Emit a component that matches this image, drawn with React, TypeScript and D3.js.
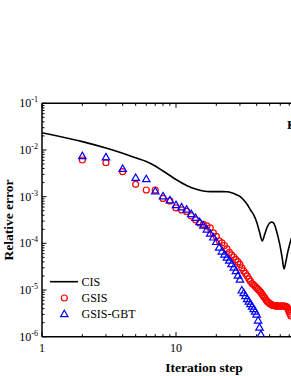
import React from "react"
import * as d3 from "d3"

// iteration step vs relative error
const cisIter = [1, 2, 3, 4, 5, 6, 7, 8, 9, 10, 12, 14, 16, 18, 20, 22, 24, 26, 28, 30, 32, 34, 36, 38, 40, 42, 44, 46, 48, 50, 52, 54, 56, 58, 60, 62, 64, 66, 68, 70, 72, 76]
const cisErr = [2.35e-2, 1.51e-2, 1.1e-2, 8.5e-3, 6.8e-3, 5.67e-3, 4.54e-3, 3.55e-3, 2.84e-3, 2.33e-3, 1.74e-3, 1.46e-3, 1.32e-3, 1.28e-3, 1.28e-3, 1.28e-3, 1.27e-3, 1.21e-3, 1.11e-3, 1.01e-3, 8.5e-4, 6.8e-4, 5.19e-4, 4.06e-4, 2.87e-4, 1.75e-4, 1.13e-4, 1.59e-4, 2.25e-4, 2.73e-4, 2.87e-4, 2.6e-4, 1.94e-4, 1.31e-4, 8.4e-5, 4.87e-5, 2.83e-5, 4.0e-5, 6.2e-5, 8.8e-5, 1.18e-4, 1.6e-4]

const gsisIter = [2, 3, 4, 5, 6, 7, 8, 9, 10, 11, 12, 13, 14, 15, 16, 17, 18, 19, 20, 21, 22, 23, 24, 25, 26, 27, 28, 29, 30, 31, 32, 33, 34, 35, 36, 37, 38, 39, 40, 41, 42, 43, 44, 45, 46, 47, 48, 49, 50, 51, 52, 53, 54, 55, 56, 57, 58, 59, 60, 61, 62, 63, 64, 65, 66, 67, 68, 69, 70, 71, 72]
const gsisErr = [6.1e-3, 5.35e-3, 3.43e-3, 1.84e-3, 1.39e-3, 1.39e-3, 9.15e-4, 8.1e-4, 5.73e-4, 5.19e-4, 4.82e-4, 3.86e-4, 3.17e-4, 2.73e-4, 2.54e-4, 2.36e-4, 2.14e-4, 1.67e-4, 1.41e-4, 1.13e-4, 1.02e-4, 9.0e-5, 7.6e-5, 6.4e-5, 5.65e-5, 5.1e-5, 4.5e-5, 4.0e-5, 3.53e-5, 2.97e-5, 2.56e-5, 2.27e-5, 2.0e-5, 1.73e-5, 1.53e-5, 1.38e-5, 1.29e-5, 1.19e-5, 1.11e-5, 1.03e-5, 9.6e-6, 8.9e-6, 8.05e-6, 7.3e-6, 6.8e-6, 6.1e-6, 5.7e-6, 5.4e-6, 5.16e-6, 4.9e-6, 4.8e-6, 4.68e-6, 4.6e-6, 4.58e-6, 4.56e-6, 4.56e-6, 4.55e-6, 4.55e-6, 4.54e-6, 4.54e-6, 4.53e-6, 4.52e-6, 4.5e-6, 4.48e-6, 4.45e-6, 4.35e-6, 4.14e-6, 3.75e-6, 3.4e-6, 3.08e-6, 2.79e-6]

const gbtIter = [2, 3, 4, 5, 6, 7, 8, 9, 10, 11, 12, 13, 14, 15, 16, 17, 18, 19, 20, 21, 22, 23, 24, 25, 26, 27, 28, 29, 30, 31, 32, 33, 34, 35, 36, 37, 38, 39, 40, 41, 42, 43]
const gbtErr = [7.26e-3, 6.84e-3, 3.86e-3, 2.48e-3, 2.33e-3, 1.28e-3, 1.0e-3, 8.2e-4, 6.48e-4, 5.81e-4, 5.19e-4, 4.16e-4, 3.45e-4, 2.8e-4, 2.36e-4, 1.94e-4, 1.59e-4, 1.31e-4, 1.05e-4, 7.96e-5, 6.55e-5, 5.65e-5, 4.87e-5, 4.2e-5, 3.53e-5, 2.97e-5, 2.5e-5, 2.0e-5, 1.64e-5, 9.6e-6, 8.45e-6, 7.3e-6, 6.3e-6, 5.56e-6, 4.92e-6, 4.35e-6, 3.84e-6, 3.4e-6, 2.93e-6, 2.18e-6, 1.54e-6, 1.09e-6]

const xMajor = [1, 10, 100]
const xLabels = [1, 10]
const yExp = [-1, -2, -3, -4, -5, -6]
const legendNames = ["CIS", "GSIS", "GSIS-GBT"]

const App = () => {
  const left = 42, right = 310, top = 103.3, bottom = 336.7
  const x = d3.scaleLog().domain([1, 100]).range([left, right])
  const y = d3.scaleLog().domain([1e-6, 1e-1]).range([bottom, top])

  const xMinor: number[] = []
  ;[1, 10].forEach(d => { for (let k = 2; k <= 9; k++) xMinor.push(d * k) })
  const yMinor: number[] = []
  ;[1e-6, 1e-5, 1e-4, 1e-3, 1e-2].forEach(d => { for (let k = 2; k <= 9; k++) yMinor.push(d * k) })

  const line = d3.line<number>()
    .x((d, i) => x(cisIter[i]))
    .y(d => y(d))
    .curve(d3.curveMonotoneX)

  const tri = d3.symbol().type(d3.symbolTriangle).size(24)()

  const serif = "Liberation Serif, Times New Roman, serif"

  return (
    <svg width={291} height={376} style={{ position: "absolute", left: 0, top: 0, fontFamily: serif }}>
      <defs>
        <clipPath id="plot">
          <rect x={left} y={top} width={right - left} height={bottom - top} />
        </clipPath>
      </defs>

      {/* frame */}
      <g stroke="#000" strokeWidth={1.5} fill="none">
        <line x1={left} x2={right} y1={top} y2={top} />
        <line x1={left} x2={right} y1={bottom} y2={bottom} />
        <line x1={left} x2={left} y1={top} y2={bottom} />
      </g>

      {/* ticks, pointing inward */}
      <g stroke="#000" strokeWidth={1}>
        {xMajor.map(d => (
          <g key={"xM" + d}>
            <line x1={x(d)} x2={x(d)} y1={bottom} y2={bottom - 4.5} />
            <line x1={x(d)} x2={x(d)} y1={top} y2={top + 4.5} />
          </g>
        ))}
        {xMinor.map(d => (
          <g key={"xm" + d}>
            <line x1={x(d)} x2={x(d)} y1={bottom} y2={bottom - 2.5} />
            <line x1={x(d)} x2={x(d)} y1={top} y2={top + 2.5} />
          </g>
        ))}
        {yExp.map(e => (
          <line key={"yM" + e} x1={left} x2={left + 4.5} y1={y(Math.pow(10, e))} y2={y(Math.pow(10, e))} />
        ))}
        {yMinor.map(d => (
          <line key={"ym" + d} x1={left} x2={left + 2.5} y1={y(d)} y2={y(d)} />
        ))}
      </g>

      {/* tick labels */}
      <g fontSize={12} fill="#000">
        {yExp.map(e => (
          <text key={"yl" + e} x={38} y={y(Math.pow(10, e)) + 4} textAnchor="end">
            10<tspan fontSize={8} dy={-5}>{"-" + Math.abs(e)}</tspan>
          </text>
        ))}
        {xLabels.map(d => (
          <text key={"xl" + d} x={x(d)} y={351.5} textAnchor="middle">{d}</text>
        ))}
      </g>

      {/* axis titles */}
      <text x={204} y={372} textAnchor="middle" fontSize={13.5} fontWeight="bold">Iteration step</text>
      <text transform={`translate(12.5, 220) rotate(-90)`} textAnchor="middle" fontSize={13.5} fontWeight="bold">Relative error</text>
      <text x={287} y={129} fontSize={13.5} fontWeight="bold">Kn</text>

      <g clipPath="url(#plot)">
        <path d={line(cisErr) || ""} fill="none" stroke="#000" strokeWidth={1.6} />
        {gsisErr.map((v, i) => (
          <circle key={"g" + i} cx={x(gsisIter[i])} cy={y(v)} r={3} fill="none" stroke="#ff0000" strokeWidth={1.2} />
        ))}
        {gbtErr.map((v, i) => (
          <path key={"b" + i} d={tri || ""} transform={`translate(${x(gbtIter[i])},${y(v)})`} fill="none" stroke="#0000ff" strokeWidth={1.2} />
        ))}
      </g>

      {/* legend */}
      <g fontSize={12}>
        <line x1={50} x2={78} y1={281.7} y2={281.7} stroke="#000" strokeWidth={1.6} />
        <circle cx={64.3} cy={298} r={3} fill="none" stroke="#ff0000" strokeWidth={1.2} />
        <path d={tri || ""} transform="translate(64.3,314.5)" fill="none" stroke="#0000ff" strokeWidth={1.2} />
        {legendNames.map((n, i) => (
          <text key={n} x={81.5} y={285.8 + i * 16} fill="#000">{n}</text>
        ))}
      </g>
    </svg>
  )
}

export default App
